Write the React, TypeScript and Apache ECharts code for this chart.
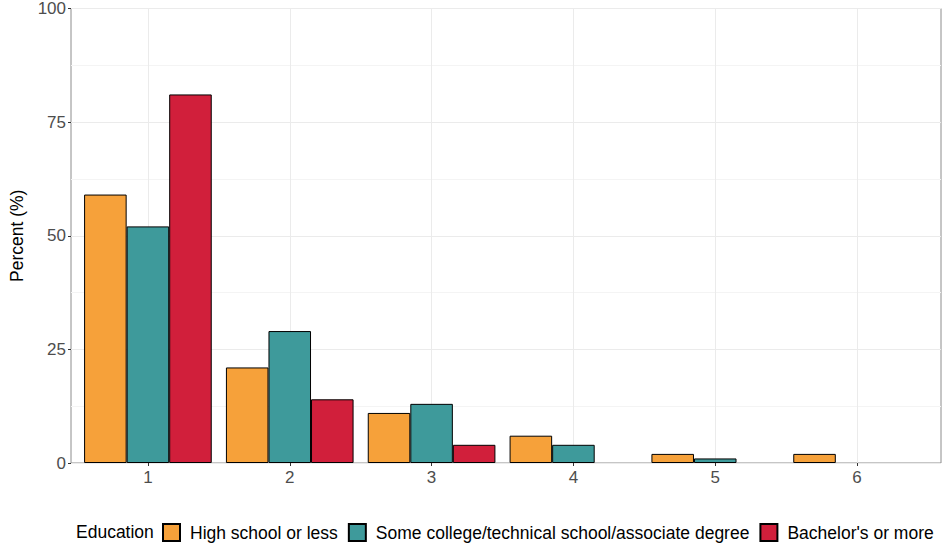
import React, { useEffect, useRef } from "react";
import * as echarts from "echarts";

const categories = ["1", "2", "3", "4", "5", "6"];
const highSchool = [59, 21, 11, 6, 2, 2];
const someCollege = [52, 29, 13, 4, 1, null];
const bachelors = [81, 14, 4, null, null, null];
const seriesNames = [
  "High school or less",
  "Some college/technical school/associate degree",
  "Bachelor's or more",
];
const seriesColors = ["#F6A13A", "#3E9A9B", "#D11F3B"];
const yTicks = [0, 25, 50, 75, 100];

export default function App() {
  const ref = useRef<HTMLDivElement>(null);
  useEffect(() => {
    document.body.style.margin = "0";
    const chart = echarts.init(ref.current!, null, { renderer: "svg" });
    const font = "Liberation Sans, Arial, sans-serif";
    const values = [highSchool, someCollege, bachelors];
    chart.setOption({
      animation: false,
      backgroundColor: "#ffffff",
      textStyle: { fontFamily: font },
      grid: [
        { left: 63, right: 7, top: 8, bottom: 84, show: true, borderColor: "#8c8c8c", borderWidth: 1, backgroundColor: "transparent" },
        { left: 77, right: 20, top: 8, bottom: 84 },
      ],
      xAxis: [
        { gridIndex: 0, type: "value", min: 0, max: 1, show: false },
        {
          gridIndex: 1,
          type: "category",
          data: categories,
          axisLine: { show: false },
          axisTick: { show: true, alignWithLabel: true, length: 3, lineStyle: { color: "#333333" } },
          axisLabel: { color: "#4d4d4d", fontSize: 17, margin: 6, fontFamily: font },
          splitLine: { show: false },
        },
      ],
      yAxis: [
        {
          gridIndex: 0,
          type: "value",
          min: yTicks[0],
          max: yTicks[yTicks.length - 1],
          interval: 25,
          name: "Percent (%)",
          nameLocation: "middle",
          nameGap: 45,
          nameTextStyle: { color: "#000000", fontSize: 17.5, fontFamily: font },
          axisLine: { show: false },
          axisTick: { show: true, length: 3, lineStyle: { color: "#333333" } },
          axisLabel: { color: "#4d4d4d", fontSize: 17, margin: 5, fontFamily: font },
          splitLine: { show: true, lineStyle: { color: "#ebebeb", width: 1 } },
          minorTick: { show: false, splitNumber: 2 },
          minorSplitLine: { show: true, lineStyle: { color: "#f4f4f4", width: 1 } },
        },
        { gridIndex: 1, type: "value", min: 0, max: 100, show: false },
      ],
      legend: {
        left: 162,
        top: 523,
        padding: 0,
        itemWidth: 17,
        itemHeight: 17,
        itemGap: 10,
        icon: "rect",
        textStyle: { color: "#000000", fontSize: 17.5, fontFamily: font, padding: [0, 0, 0, 5] },
        data: seriesNames,
      },
      graphic: [
        {
          type: "text",
          left: 76,
          top: 523,
          style: { text: "Education", fontSize: 17.5, fill: "#000000", fontFamily: font, lineHeight: 18 },
        },
      ],
      series: [
        {
          type: "line",
          xAxisIndex: 1,
          yAxisIndex: 1,
          data: [],
          silent: true,
          z: 0,
          markLine: {
            z: 1,
            silent: true,
            symbol: "none",
            label: { show: false },
            lineStyle: { color: "#ebebeb", width: 1, type: "solid" },
            data: categories.map((c) => ({ xAxis: c })),
          },
        },
        ...seriesNames.map((name, i) => ({
          name,
          type: "bar",
          xAxisIndex: 1,
          yAxisIndex: 1,
          data: values[i],
          barGap: "0%",
          barCategoryGap: "10%",
          z: 3,
          itemStyle: { color: seriesColors[i], borderColor: "#000000", borderWidth: 1 },
        })),
      ],
    });
    return () => chart.dispose();
  }, []);
  return <div ref={ref} style={{ width: 948, height: 547 }} />;
}
